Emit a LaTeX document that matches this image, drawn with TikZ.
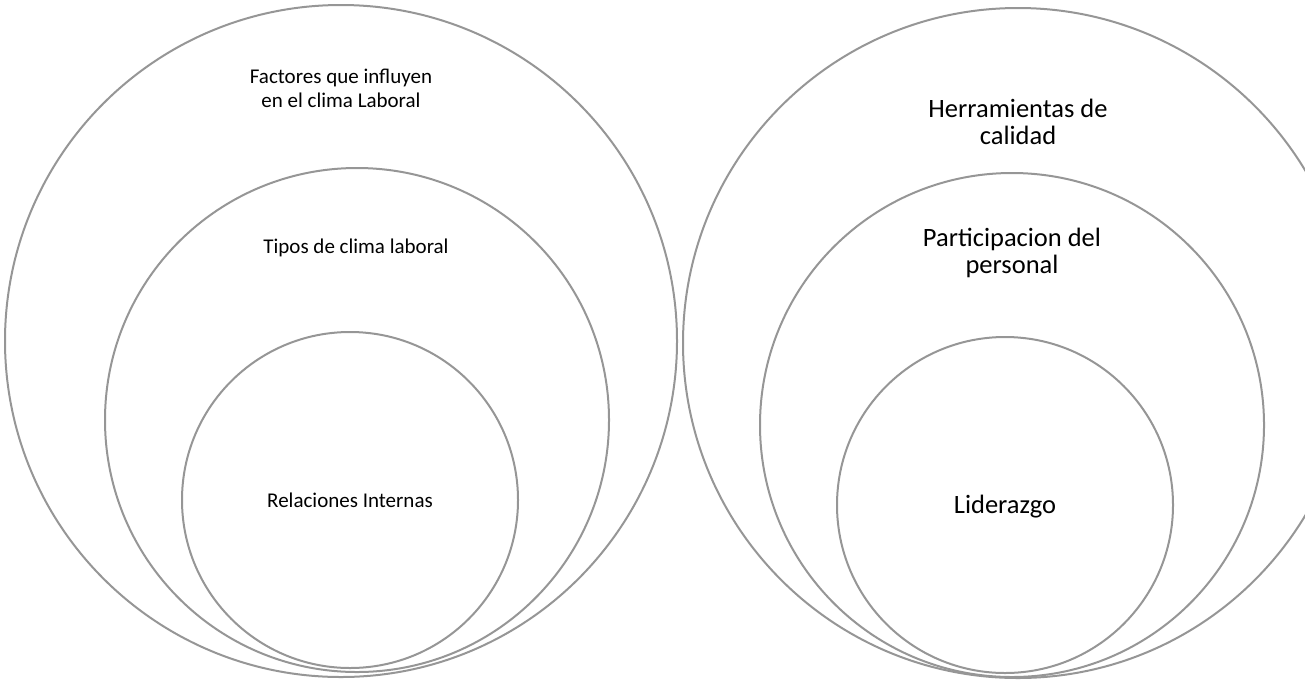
\documentclass[tikz,border=0pt]{standalone}
\usepackage{fontspec}
\setmainfont{Carlito}
\definecolor{ringgray}{RGB}{150,150,150}
\begin{document}
\begin{tikzpicture}[x=1pt,y=-1pt,
  ring/.style={circle, draw=ringgray, line width=2pt, inner sep=0pt},
  smalltxt/.style={font=\fontsize{21}{24}\selectfont, align=center, inner sep=0pt},
  bigtxt/.style={font=\fontsize{26.5}{27.5}\selectfont, align=center, inner sep=0pt}]
\useasboundingbox (0,0) rectangle (1305,681);
\clip (0,0) rectangle (1305,681);
% left group
\node[ring, minimum size=672pt] (LO) at (341,341) {};
\node[ring, minimum size=504pt] (LM) at (357,420) {};
\node[ring, minimum size=336pt] (LI) at (350,500) {};
% right group
\node[ring, minimum size=670pt] (RO) at (1018,343) {};
\node[ring, minimum size=504pt] (RM) at (1012,425) {};
\node[ring, minimum size=336pt] (RI) at (1005,505) {};
% labels
\node[smalltxt] (t1) at (341,88) {Factores que influyen\\en el clima Laboral};
\node[smalltxt, anchor=base] (t2) at (356,253) {Tipos de clima laboral};
\node[smalltxt, anchor=base] (t3) at (350,507) {Relaciones Internas};
\node[bigtxt] (t4) at (1018,122) {Herramientas de\\calidad};
\node[bigtxt] (t5) at (1012,253) {Participacion del\\personal};
\node[bigtxt, anchor=base] (t6) at (1005,513) {Liderazgo};
\end{tikzpicture}
\end{document}
